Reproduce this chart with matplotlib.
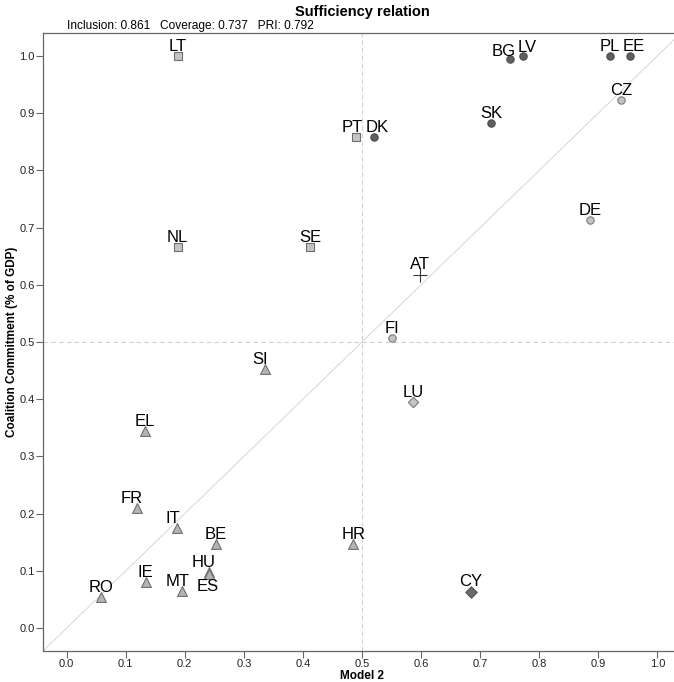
import numpy as np
import matplotlib
matplotlib.use('Agg')
import matplotlib.pyplot as plt

plt.rcParams['font.family'] = ['Liberation Sans', 'DejaVu Sans']

# cases: country code, model score (x), outcome (y), case group
countries = ['LT', 'BG', 'LV', 'PL', 'EE', 'CZ', 'SK', 'PT', 'DK', 'DE',
             'NL', 'SE', 'AT', 'FI', 'SI', 'LU', 'EL', 'FR', 'IT', 'BE',
             'HR', 'HU', 'ES', 'IE', 'MT', 'RO', 'CY']
model2 = [0.188, 0.751, 0.773, 0.919, 0.954, 0.939, 0.719, 0.490, 0.520, 0.886,
          0.188, 0.412, 0.598, 0.551, 0.336, 0.586, 0.132, 0.119, 0.186, 0.253,
          0.485, 0.241, 0.241, 0.134, 0.195, 0.059, 0.685]
commit = [1.000, 0.995, 1.000, 1.000, 1.000, 0.923, 0.883, 0.858, 0.858, 0.713,
          0.666, 0.666, 0.617, 0.507, 0.453, 0.395, 0.344, 0.210, 0.175, 0.147,
          0.147, 0.098, 0.095, 0.080, 0.065, 0.054, 0.063]
group = ['sq', 'dk', 'dk', 'dk', 'dk', 'lc', 'dk', 'sq', 'dk', 'lc',
         'sq', 'sq', 'pl', 'lc', 'tr', 'ld', 'tr', 'tr', 'tr', 'tr',
         'tr', 'tr', 'tr', 'tr', 'tr', 'tr', 'dd']

ticks = np.arange(0, 1.01, 0.1)
tick_labels = ['%.1f' % t for t in ticks]

# marker styles per group
styles = {
    'sq': dict(marker='s', s=26, facecolor='#c4c4c4', edgecolor='#6e6e6e'),
    'dk': dict(marker='o', s=28, facecolor='#5f5f5f', edgecolor='#4a4a4a'),
    'lc': dict(marker='o', s=28, facecolor='#c4c4c4', edgecolor='#7a7a7a'),
    'tr': dict(marker='^', s=50, facecolor='#b4b4b4', edgecolor='#707070'),
    'pl': dict(marker='+', s=90, facecolor='#333333', edgecolor='#333333'),
    'ld': dict(marker='D', s=28, facecolor='#c4c4c4', edgecolor='#7a7a7a'),
    'dd': dict(marker='D', s=34, facecolor='#6a6a6a', edgecolor='#555555'),
}

# label nudges (pixels) where the labels were pushed apart
nudge = {'BG': (-7, 3), 'LV': (4, 4), 'EE': (4, 5), 'HU': (-5, 5), 'ES': (-1, -17),
         'MT': (-4, 5), 'FR': (-5, 5), 'IT': (-4, 5), 'SI': (-5, 5), 'PT': (-4, 5),
         'DK': (3, 5), 'IE': (0, 5), 'CY': (-1, 6), 'AT': (0, 6), 'EL': (0, 5)}

fig = plt.figure(figsize=(6.74, 6.82), dpi=100)
ax = fig.add_axes([43 / 674, 31 / 682, 638 / 674, 618 / 682])

ax.axline((0, 0), slope=1, color='#d6d6d6', lw=0.7, zorder=1)
ax.axhline(0.5, color='#d0d0d0', lw=0.8, ls=(0, (4, 3)), zorder=1)
ax.axvline(0.5, color='#d0d0d0', lw=0.8, ls=(0, (4, 3)), zorder=1)

for c, x, y, g in zip(countries, model2, commit, group):
    st = styles[g]
    if g == 'pl':
        ax.scatter(x, y, marker='+', s=st['s'], color=st['edgecolor'], linewidths=0.8, zorder=3)
    else:
        ax.scatter(x, y, marker=st['marker'], s=st['s'], facecolor=st['facecolor'],
                   edgecolor=st['edgecolor'], linewidths=0.8, zorder=3)
    dx, dy = nudge.get(c, (0, 5))
    ax.annotate(c, (x, y), xytext=(dx, dy), textcoords='offset pixels',
                ha='center', va='baseline', fontsize=12, color='black', zorder=4)

ax.set_xlim(-0.04, 1.04)
ax.set_ylim(-0.04, 1.04)
ax.set_xticks(ticks)
ax.set_xticklabels(tick_labels)
ax.set_yticks(ticks)
ax.set_yticklabels(tick_labels)
ax.tick_params(direction='out', length=5, width=0.8, color='#666666',
               labelsize=8, labelcolor='#222222', pad=1)
for side in ['left', 'bottom', 'top']:
    ax.spines[side].set_color('#666666')
    ax.spines[side].set_linewidth(0.9)
ax.spines['right'].set_visible(False)

ax.set_ylabel('Coalition Commitment (% of GDP)', fontsize=8.5, fontweight='bold', labelpad=1)

fig.text(362 / 674, 1 - 676 / 682, 'Model 2', ha='center', va='center',
         fontsize=8.5, fontweight='bold')
fig.text(362 / 674, 1 - 12 / 682, 'Sufficiency relation', ha='center', va='center',
         fontsize=10.5, fontweight='bold')
fig.text(67 / 674, 1 - 26 / 682, 'Inclusion: 0.861   Coverage: 0.737   PRI: 0.792',
         ha='left', va='center', fontsize=8.6)

fig.savefig('out.png', dpi=100)
